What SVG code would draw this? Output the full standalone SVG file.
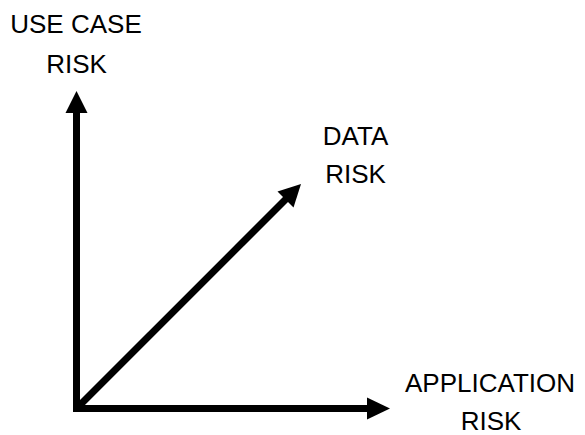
<svg xmlns="http://www.w3.org/2000/svg" width="585" height="435" viewBox="0 0 585 435">
<style>
text{font-family:"Liberation Sans",Arial,sans-serif;font-size:26px;fill:#000;text-anchor:middle}
.ax{stroke:#000;stroke-width:7;fill:none}
.hd{fill:#000}
</style>
<rect width="585" height="435" fill="#fff"/>
<g id="connectors">
<line class="ax" x1="76.5" y1="412" x2="76.5" y2="110"/>
<polygon class="hd" points="76.5,91 87.5,113 65.5,113"/>
<line class="ax" x1="73" y1="408.5" x2="370" y2="408.5"/>
<polygon class="hd" points="390,408.5 367,397.5 367,419.5"/>
<line class="ax" x1="77" y1="408" x2="288" y2="197"/>
<polygon class="hd" points="301,184 293.5,207.5 277.5,191.5"/>
</g>
<g id="use-case-risk"><text x="76" y="33">USE CASE</text><text x="76.5" y="72.5">RISK</text></g>
<g id="data-risk"><text x="355.5" y="145">DATA</text><text x="355.5" y="183">RISK</text></g>
<g id="application-risk"><text x="490" y="392">APPLICATION</text><text x="491" y="430">RISK</text></g>
</svg>
